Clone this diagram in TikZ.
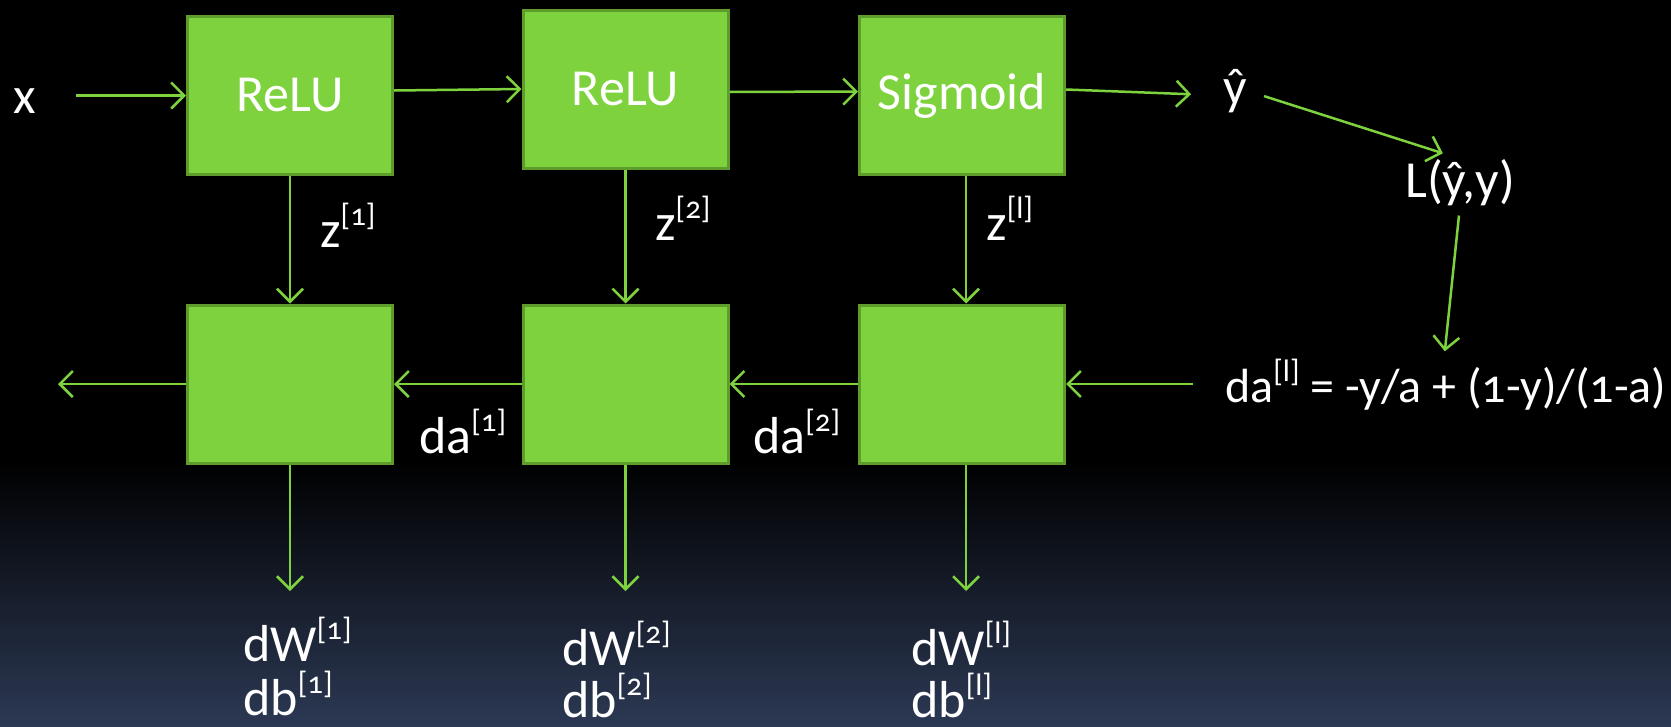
\documentclass[tikz,border=0pt]{standalone}
\usepackage{fontspec}
\setmainfont{Carlito}[Numbers=OldStyle]
\usetikzlibrary{arrows.meta}
\definecolor{boxgreen}{HTML}{7ED23E}
\definecolor{boxedge}{HTML}{5E9C2C}
\definecolor{linegreen}{HTML}{7ED23E}
\definecolor{bgbottom}{HTML}{2C3954}
\newcommand\idx[1]{\raisebox{0.42em}{\fontsize{31}{31}\selectfont[#1]}}
\begin{document}
\begin{tikzpicture}[x=1pt,y=-1pt,
  blk/.style={draw=boxedge, fill=boxgreen, line width=3pt,
    minimum width=205pt, minimum height=158pt, inner sep=0pt,
    text=white, font=\fontsize{52}{60}\selectfont},
  lbl/.style={text=white, font=\fontsize{52}{60}\selectfont, inner sep=0pt},
  link/.style={draw=linegreen, line width=2.5pt,
    -{Straight Barb[length=13pt,width=26pt,line width=2.5pt]}}]

  % background: black fading to slate blue at the bottom
  \useasboundingbox (0,0) rectangle (1671,726);
  \fill[black] (0,0) rectangle (1671,726);
  \shade[top color=black, bottom color=bgbottom] (0,460) rectangle (1671,726);

  % forward pass
  \node[blk] (f1) at (290,95.5) {ReLU};
  \node[blk] (f2) at (625.5,89) {ReLU};
  \node[blk] (f3) at (962,95.5) {Sigmoid};

  % backward pass
  \node[blk] (g1) at (290,384) {};
  \node[blk] (g2) at (625.5,384) {};
  \node[blk] (g3) at (962,384) {};

  % inputs, outputs and loss
  \node[lbl, anchor=base west] (x) at (13,113) {x};
  \node[lbl, anchor=base west] (yhat) at (1223,104) {ŷ};
  \node[lbl, anchor=base west] (loss) at (1405,197) {L(ŷ,y)};
  \node[lbl, anchor=base west, font=\fontsize{48}{56}\selectfont] (dal) at (1225,402)
    {da\idx{l} = -y/a + (1-y)/(1-a)};

  % cached values and gradients
  \node[lbl, anchor=base west] (z1) at (320,247) {z\idx{1}};
  \node[lbl, anchor=base west] (z2) at (655,240) {z\idx{2}};
  \node[lbl, anchor=base west] (z3) at (986,240) {z\idx{l}};
  \node[lbl, anchor=base west] (da1) at (419,453) {da\idx{1}};
  \node[lbl, anchor=base west] (da2) at (753,453) {da\idx{2}};
  \node[lbl, anchor=base west] (dw1) at (243,661) {dW\idx{1}};
  \node[lbl, anchor=base west] (db1) at (243,715) {db\idx{1}};
  \node[lbl, anchor=base west] (dw2) at (562,665) {dW\idx{2}};
  \node[lbl, anchor=base west] (db2) at (562,717) {db\idx{2}};
  \node[lbl, anchor=base west] (dw3) at (911,665) {dW\idx{l}};
  \node[lbl, anchor=base west] (db3) at (911,717) {db\idx{l}};

  % free ends
  \coordinate (out) at (58,384);
  \coordinate (w1) at (290,591);
  \coordinate (w2) at (625.5,591);
  \coordinate (w3) at (966,591);

  % forward connectors
  \draw[link, shorten <=40pt] (x.east |- f1.west) -- (f1.west);
  \draw[link] ([yshift=5pt]f1.east) -- (f2.west);
  \draw[link] ([yshift=-3pt]f2.east) -- ([yshift=4pt]f3.west);
  \draw[link, shorten >=32pt] ([yshift=6pt]f3.east) -- (f3.east -| yhat.west);
  \draw[link, shorten <=18pt, shorten >=18pt] (yhat.east) -- ([xshift=55pt]loss.north west);
  \draw[link, shorten <=10pt, shorten >=8pt] ([xshift=55pt]loss.south west) -- ([xshift=219pt]dal.north west);

  % cache connectors
  \draw[link] (f1.south) -- (g1.north);
  \draw[link] (f2.south) -- (g2.north);
  \draw[link] ([xshift=4pt]f3.south) -- ([xshift=4pt]g3.north);

  % backward connectors
  \draw[link, shorten <=32pt] (dal.west |- g3.east) -- (g3.east);
  \draw[link] (g3.west) -- (g2.east);
  \draw[link] (g2.west) -- (g1.east);
  \draw[link] (g1.west) -- (out);

  % gradient connectors
  \draw[link] (g1.south) -- (w1);
  \draw[link] (g2.south) -- (w2);
  \draw[link] ([xshift=4pt]g3.south) -- (w3);
\end{tikzpicture}
\end{document}
